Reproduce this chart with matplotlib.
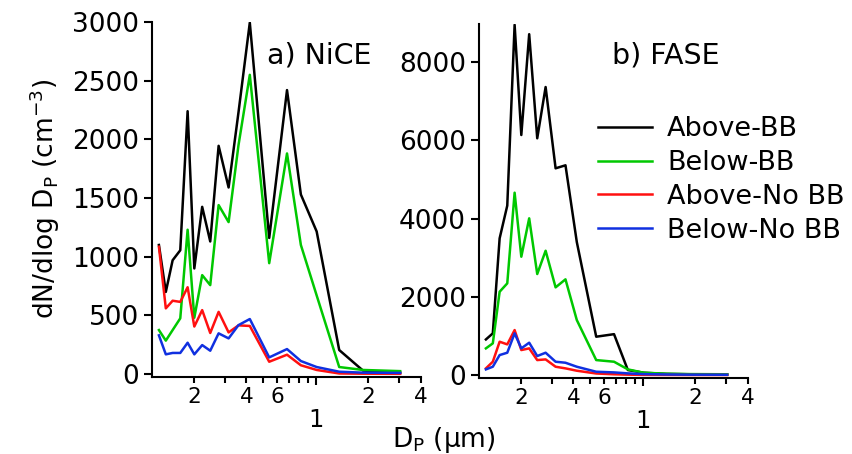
import matplotlib.pyplot as plt
from matplotlib import ticker
import numpy as np

# particle diameter bins (um), same for both campaigns
dp = [0.126, 0.138, 0.151, 0.167, 0.184, 0.201, 0.223, 0.248, 0.277, 0.316,
      0.36, 0.418, 0.54, 0.683, 0.82, 1.01, 1.36, 1.86, 3.04]

# a) NiCE, dN/dlogDp (cm-3)
nice_above_bb = [1100, 700, 970, 1055, 2240, 900, 1425, 1130, 1945, 1590,
                 2230, 2995, 1160, 2420, 1530, 1215, 205, 30, 12]
nice_below_bb = [375, 285, 375, 475, 1230, 480, 843, 758, 1440, 1295,
                 1950, 2550, 945, 1880, 1100, 670, 60, 35, 25]
nice_above_nobb = [1085, 560, 625, 615, 740, 405, 545, 350, 530, 355,
                   415, 410, 105, 165, 75, 35, 5, 3, 2]
nice_below_nobb = [330, 168, 180, 180, 267, 168, 247, 199, 347, 304,
                   417, 469, 142, 213, 111, 60, 20, 12, 10]

# b) FASE
fase_above_bb = [910, 1066, 3494, 4330, 8950, 6134, 8710, 6050, 7360, 5283,
                 5360, 3400, 980, 1045, 128, 60, 30, 20, 15]
fase_below_bb = [682, 810, 2129, 2343, 4660, 3024, 4005, 2582, 3177, 2241,
                 2446, 1406, 383, 341, 145, 60, 35, 25, 20]
fase_above_nobb = [171, 341, 852, 784, 1150, 639, 682, 383, 400, 213,
                   171, 111, 40, 20, 10, 5, 3, 2, 2]
fase_below_nobb = [145, 213, 511, 571, 1066, 682, 827, 486, 571, 341,
                   315, 213, 85, 68, 43, 25, 15, 10, 8]

labels = ['Above-BB', 'Below-BB', 'Above-No BB', 'Below-No BB']
colors = ['black', '#00c800', '#ff1010', '#1030e0']

minor_pos = [0.2, 0.3, 0.4, 0.5, 0.6, 0.7, 0.8, 0.9, 2, 3, 4]
minor_lab = ['2', '', '4', '', '6', '', '', '', '2', '', '4']

fig = plt.figure(figsize=(8.52, 4.54), dpi=100)
ax_a = fig.add_axes([0.1784, 0.1696, 0.3157, 0.7819])
ax_b = fig.add_axes([0.5622, 0.1674, 0.3157, 0.7797])

series_a = [nice_above_bb, nice_below_bb, nice_above_nobb, nice_below_nobb]
series_b = [fase_above_bb, fase_below_bb, fase_above_nobb, fase_below_nobb]

for ax, series in [(ax_a, series_a), (ax_b, series_b)]:
    for vals, c, lab in zip(series, colors, labels):
        ax.plot(dp, vals, color=c, lw=1.8, label=lab)
    ax.set_xscale('log')
    ax.set_xlim(0.115, 4.0)
    for s in ['top', 'right']:
        ax.spines[s].set_visible(False)
    for s in ['left', 'bottom']:
        ax.spines[s].set_linewidth(1.5)
    ax.xaxis.set_major_locator(ticker.FixedLocator([1]))
    ax.xaxis.set_major_formatter(ticker.FixedFormatter(['1']))
    ax.xaxis.set_minor_locator(ticker.FixedLocator(minor_pos))
    ax.xaxis.set_minor_formatter(ticker.FixedFormatter(minor_lab))
    ax.tick_params(axis='x', which='major', direction='out', length=6, width=1.5,
                   labelsize=17.5, pad=16)
    ax.tick_params(axis='x', which='minor', direction='out', length=4, width=1.5,
                   labelsize=15.5, pad=3)
    ax.tick_params(axis='y', direction='out', length=5.5, width=1.5,
                   labelsize=19, pad=4)

ax_a.set_ylim(-25, 3000)
ax_a.set_yticks([0, 500, 1000, 1500, 2000, 2500, 3000])
ax_b.set_ylim(-75, 8970)
ax_b.set_yticks([0, 2000, 4000, 6000, 8000])

ax_a.text(0.4275, 0.8845, 'a) NiCE', transform=ax_a.transAxes, fontsize=20.5,
          va='baseline', ha='left')
ax_b.text(0.494, 0.889, 'b) FASE', transform=ax_b.transAxes, fontsize=20.5,
          va='baseline', ha='left')

fig.text(0.052, 0.562, r'dN/dlog D$_\mathrm{P}$ (cm$^{-3}$)', rotation=90,
         fontsize=19, ha='center', va='center')
fig.text(0.521, 0.031, r'D$_\mathrm{P}$ ($\mathrm{\mu}$m)', fontsize=19,
         ha='center', va='center')

ax_b.legend(loc='upper left', bbox_to_anchor=(598 / 852, 0.744),
            bbox_transform=fig.transFigure, frameon=False, fontsize=19.5,
            handlelength=2.0, handletextpad=0.55, labelspacing=0.29,
            borderpad=0, borderaxespad=0)

fig.savefig('out.png', dpi=100)
